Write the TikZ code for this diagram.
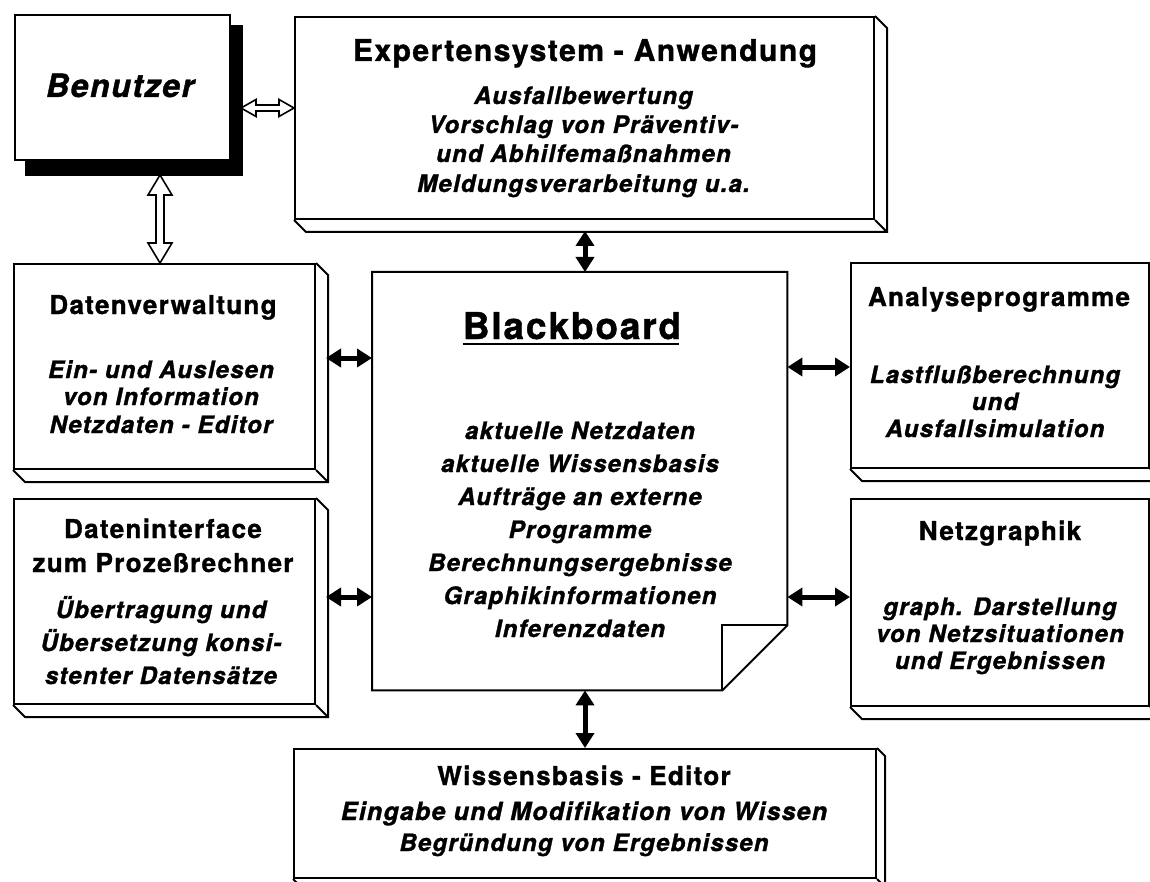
\documentclass[tikz,border=0pt]{standalone}
\usepackage{fontspec}
\setmainfont{TeX Gyre Heros}[LetterSpace=5,Ligatures=NoCommon,BoldFeatures={FakeBold=1.2},BoldItalicFeatures={FakeBold=1.2}]
\usetikzlibrary{calc,arrows.meta}
\tikzset{
  edge/.style={line width=2pt, line join=miter},
  box/.style={draw, edge, fill=white, inner sep=0pt, anchor=north west},
  ttl/.style={font=\bfseries\fontsize{26}{30}\selectfont, anchor=base, inner sep=0pt},
  itm/.style={font=\bfseries\itshape\fontsize{24}{28}\selectfont, anchor=base, inner sep=0pt},
  farr/.style={line width=5pt, {Triangle[length=15pt,width=18pt]}-{Triangle[length=15pt,width=18pt]}},
  openarr/.style={draw, fill=white, line width=1.6pt, line join=miter}
}
\newcommand\bevel[2]{\draw[edge] (#1.south west) -- ++(#2,#2) -| ($(#1.north east)+(#2,#2)$) -- (#1.north east) (#1.south east) -- ++(#2,#2);}
\newcommand\hopen[2]{\path[openarr] (#1) -- ($(#1)+(15pt,8.5pt)$) -- ($(#1)+(15pt,3pt)$) -- ($(#2)+(-15pt,3pt)$) -- ($(#2)+(-15pt,8.5pt)$) -- (#2) -- ($(#2)+(-15pt,-8.5pt)$) -- ($(#2)+(-15pt,-3pt)$) -- ($(#1)+(15pt,-3pt)$) -- ($(#1)+(15pt,-8.5pt)$) -- cycle;}
\newcommand\vopen[2]{\path[openarr] (#1) -- ($(#1)+(12pt,-20pt)$) -- ($(#1)+(4pt,-20pt)$) -- ($(#2)+(4pt,20pt)$) -- ($(#2)+(12pt,20pt)$) -- (#2) -- ($(#2)+(-12pt,20pt)$) -- ($(#2)+(-4pt,20pt)$) -- ($(#1)+(-4pt,-20pt)$) -- ($(#1)+(-12pt,-20pt)$) -- cycle;}
\begin{document}
\begin{tikzpicture}[x=1pt,y=-1pt]
\useasboundingbox (0,0) rectangle (1150,882);
\fill[white] (0,0) rectangle (1150,882);
\clip (0,0) rectangle (1150,882);

% Benutzer with shadow
\node[box, minimum width=215pt, minimum height=145pt] (ben) at (14,14) {};
\fill[black] ($(ben.north west)+(11,11)$) rectangle ($(ben.south east)+(12,15)$);
\node[box, minimum width=215pt, minimum height=145pt] (benf) at (14,14) {};
\node[font=\bfseries\itshape\fontsize{32}{36}\selectfont, anchor=base, inner sep=0pt] (tben) at (120,97) {Benutzer};

% Expertensystem
\node[box, minimum width=579pt, minimum height=202pt] (exp) at (294,16) {};
\bevel{exp}{12}
\node[ttl, font=\bfseries\fontsize{30}{34}\selectfont] (texp) at (585,61) {Expertensystem - Anwendung};
\node[itm] (e1) at (583.5,104) {Ausfallbewertung};
\node[itm] (e2) at (583.5,133) {Vorschlag von Präventiv-};
\node[itm] (e3) at (583.5,162) {und Abhilfemaßnahmen};
\node[itm] (e4) at (583.5,192) {Meldungsverarbeitung u.a.};

% Datenverwaltung
\node[box, minimum width=301pt, minimum height=205pt] (dv) at (13,263) {};
\bevel{dv}{12}
\node[ttl] (tdv) at (163,314) {Datenverwaltung};
\node[itm] (d1) at (161,378) {Ein- und Auslesen};
\node[itm] (d2) at (161,405) {von Information};
\node[itm] (d3) at (161,433) {Netzdaten - Editor};

% Dateninterface
\node[box, minimum width=301pt, minimum height=205pt] (di) at (13,498) {};
\bevel{di}{12}
\node[ttl] (tdi) at (163,538) {Dateninterface};
\node[ttl] (tdi2) at (163,572) {zum Prozeßrechner};
\node[itm] (i1) at (161,618) {Übertragung und};
\node[itm] (i2) at (161,651) {Übersetzung konsi-};
\node[itm] (i3) at (161,684) {stenter Datensätze};

% Blackboard
\node[inner sep=0pt, minimum width=415pt, minimum height=418pt, anchor=north west] (bb) at (372,272) {};
\draw[edge, fill=white] (bb.north west) -- (bb.north east) -- ($(bb.south east)+(0,-65)$) -- ($(bb.south east)+(-65,0)$) -- (bb.south west) -- cycle;
\draw[edge] ($(bb.south east)+(0,-65)$) -- ($(bb.south east)+(-65,-65)$) -- ($(bb.south east)+(-65,0)$);
\node[font=\bfseries\fontsize{37}{42}\selectfont, anchor=base, inner sep=0pt] (tbb) at (572,339) {Blackboard};
\draw[line width=2.5pt] ($(tbb.base west)+(0,5)$) -- ($(tbb.base east)+(-2,5)$);
\node[itm] (b1) at (580,439) {aktuelle Netzdaten};
\node[itm] (b2) at (580,472) {aktuelle Wissensbasis};
\node[itm] (b3) at (580,505) {Aufträge an externe};
\node[itm] (b4) at (580,538) {Programme};
\node[itm] (b5) at (580,571) {Berechnungsergebnisse};
\node[itm] (b6) at (580,604) {Graphikinformationen};
\node[itm] (b7) at (580,637) {Inferenzdaten};

% Analyseprogramme
\node[box, minimum width=298pt, minimum height=205pt] (an) at (850,262) {};
\bevel{an}{12}
\node[ttl] (tan) at (999,306) {Analyseprogramme};
\node[itm] (a1) at (995,383) {Lastflußberechnung};
\node[itm] (a2) at (995,410) {und};
\node[itm] (a3) at (995,437) {Ausfallsimulation};

% Netzgraphik
\node[box, minimum width=298pt, minimum height=207pt] (ng) at (850,498) {};
\bevel{ng}{12}
\node[ttl] (tng) at (1000,540) {Netzgraphik};
\node[itm] (n1) at (1000,615) {graph. Darstellung};
\node[itm] (n2) at (1000,642) {von Netzsituationen};
\node[itm] (n3) at (1000,669) {und Ergebnissen};

% Wissensbasis
\node[box, minimum width=582pt, minimum height=129pt] (wb) at (293,748) {};
\bevel{wb}{8}
\node[ttl] (twb) at (584,785) {Wissensbasis - Editor};
\node[itm, font=\bfseries\itshape\fontsize{25}{29}\selectfont] (w1) at (584,820) {Eingabe und Modifikation von Wissen};
\node[itm] (w2) at (584,851) {Begründung von Ergebnissen};

% open arrows (Benutzer)
\coordinate (oh1) at (241,108);
\coordinate (oh2) at (oh1 -| exp.west);
\hopen{oh1}{oh2}
\coordinate (ov1) at (160,175);
\coordinate (ov2) at (ov1 |- dv.north);
\vopen{ov1}{ov2}

% filled arrows
\coordinate (f1) at (326,358);
\draw[farr] (f1) -- (f1 -| bb.west);
\coordinate (f2) at (326,597);
\draw[farr] (f2) -- (f2 -| bb.west);
\coordinate (f3) at (787,367);
\draw[farr] (f3 -| bb.east) -- (f3 -| an.west);
\coordinate (f4) at (787,597);
\draw[farr] (f4 -| bb.east) -- (f4 -| ng.west);
\coordinate (f5) at (585,231);
\draw[farr] (f5) -- (f5 |- bb.north);
\coordinate (f6) at (585,690);
\draw[farr] (f6 |- bb.south) -- (f6 |- wb.north);
\end{tikzpicture}
\end{document}
